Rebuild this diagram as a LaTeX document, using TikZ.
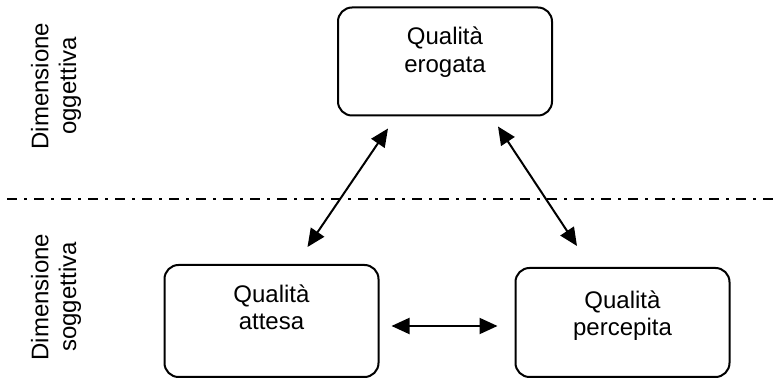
\documentclass[tikz,border=0pt]{standalone}
\usepackage{fontspec}
\setmainfont{Liberation Sans}
\usetikzlibrary{arrows.meta, positioning}
\tikzset{
  qbox/.style={draw, line width=1pt, rounded corners=7pt, minimum width=107pt, minimum height=54pt},
  qtext/.style={align=center, inner sep=0pt, font=\fontsize{12}{13.8}\selectfont},
  qlink/.style={line width=1pt, {Triangle[length=9pt,width=8pt]}-{Triangle[length=9pt,width=8pt]}},
}
\begin{document}
\begin{tikzpicture}[x=0.5pt, y=-0.5pt]%
  \useasboundingbox (0,0) rectangle (773,379);
  \def\ty{10pt}

  %quality boxes:
  \node[qbox] (erogata) at (445,61.5) {};
  \node[qbox, minimum height=56pt] (attesa) at (271.5,321) {};
  \node[qbox, minimum height=54.5pt] (percepita) at (622.5,322.5) {};
  \node[qtext, below=\ty of erogata.north] (erogatatxt) {Qualità\\erogata};
  \node[qtext, below=\ty of attesa.north] (attesatxt) {Qualità\\attesa};
  \node[qtext, below=11.5pt of percepita.north] (percepitatxt) {Qualità\\percepita};

  %dimensions
  \node[qtext, rotate=90] (oggettiva) at (56,86) {Dimensione\\oggettiva};
  \node[qtext, rotate=90] (soggettiva) at (56,297) {Dimensione\\soggettiva};
  \draw[line width=1pt, dash pattern=on 5pt off 3.5pt on 1.5pt off 3.5pt] (7,199) -- (773,199);

  %links
  \draw[qlink] ([xshift=-28.5pt, yshift=-6pt]erogata.south) -- ([xshift=18pt, yshift=8.5pt]attesa.north);
  \draw[qlink] ([xshift=26.5pt, yshift=-5pt]erogata.south) -- ([xshift=-22.75pt, yshift=10.5pt]percepita.north);
  \draw[qlink] ([xshift=6pt, yshift=-2.5pt]attesa.east) -- ([xshift=-8.5pt, yshift=-1.75pt]percepita.west);
\end{tikzpicture}
\end{document}
